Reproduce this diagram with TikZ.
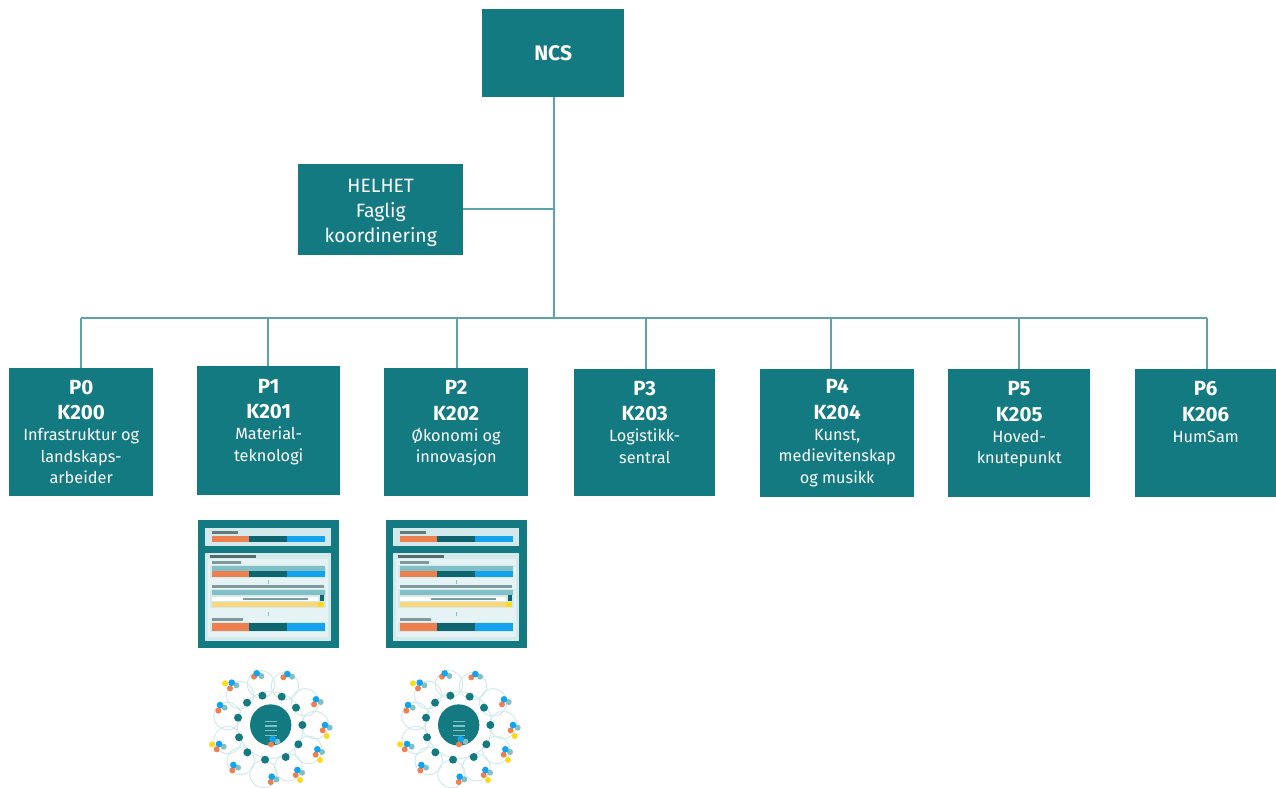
\documentclass[tikz,border=0pt]{standalone}
\usepackage{fontspec}
\setmainfont{Fira Sans}
\definecolor{teal}{HTML}{147A82}
\definecolor{dteal}{HTML}{0E6570}
\definecolor{linec}{HTML}{5FA3AA}
\definecolor{pale}{HTML}{D3E9EB}
\definecolor{paler}{HTML}{E6F3F4}
\definecolor{midt}{HTML}{7FBFC5}
\definecolor{orng}{HTML}{EE7F4F}
\definecolor{blu}{HTML}{13A3EE}
\definecolor{yel}{HTML}{F8D77F}
\definecolor{yel2}{HTML}{FFD81A}
\definecolor{greyb}{HTML}{7F9A9C}
\tikzset{
  every node/.style={font=\fontsize{16.3}{21.5}\selectfont},
  box/.style={fill=teal,text=white,align=center,inner sep=0pt,anchor=north west,draw=none},
  conn/.style={draw=linec,line width=1.6pt},
  ringline/.style={draw=pale,line width=1pt},
  pics/panel/.style={code={
    \fill[teal] (0,0) rectangle (141,-128);
    \fill[pale] (7,-8) rectangle (132.5,-26);
    \fill[pale] (7,-33) rectangle (132.5,-121);
    \fill[paler] (10,-39) rectangle (130,-117);
    \fill[pale] (12,-45) rectangle (128,-57.5);
    \fill[pale] (12,-69) rectangle (128,-88);
    \fill[pale] (12,-102) rectangle (128,-112);
    \fill[greyb!80!black] (14,-10.5) rectangle (40,-14);
    \fill[orng] (14,-16) rectangle (51,-22);
    \fill[dteal] (51,-16) rectangle (89,-22);
    \fill[blu] (89,-16) rectangle (127,-22);
    \fill[teal] (69.5,-26) rectangle (70.5,-33);
    \fill[greyb!70!black] (12,-34.5) rectangle (58,-37.5);
    \fill[greyb] (14,-41) rectangle (43,-44);
    \fill[midt] (14,-46) rectangle (127,-51);
    \fill[orng] (14,-51) rectangle (51,-56.5);
    \fill[dteal] (51,-51) rectangle (89,-56.5);
    \fill[blu] (89,-51) rectangle (127,-56.5);
    \fill[greyb] (14,-65) rectangle (126,-68);
    \fill[midt] (14,-70) rectangle (127,-75);
    \fill[white] (14,-77) rectangle (120,-81);
    \fill[greyb] (45,-78) rectangle (110,-80);
    \fill[dteal] (122,-75) rectangle (126,-81);
    \fill[yel] (14,-82) rectangle (126,-87);
    \fill[yel2] (120,-82) rectangle (126,-87);
    \fill[midt] (69.5,-60) rectangle (70.5,-64);
    \fill[midt] (69.5,-92) rectangle (70.5,-96);
    \fill[greyb] (14,-98) rectangle (45,-101);
    \fill[orng] (14,-103) rectangle (51,-111);
    \fill[dteal] (51,-103) rectangle (89,-111);
    \fill[blu] (89,-103) rectangle (127,-111);
  }},
  pics/ring/.style={code={
    \begin{scope}[x=.3333pt,y=-.3333pt,shift={(-212,-195)}]
    \foreach \a/\b in {183/73,255/78,315/127,345/195,325/270,265/322,190/342,122/303,83/240,82/168,120/105}
      \draw[ringline] (\a,\b) circle (41);
    \draw[ringline] (212,195) circle (100);
    \foreach \a/\b in {187/107,245/110,288/143,307/195,295/253,257/291,195/299,142/277,117/232,114/173,141/128}
      \fill[teal] (\a,\b) circle (12);
    \fill[teal] (212,195) circle (62);
    \foreach \y in {182,196,210,224} \fill[midt] (195,\y) rectangle (230,\y+4);
    \foreach \a/\b/\c/\d in {170/40/162/50,262/42/250/52,348/118/342/133,375/195/368/211,352/268/347/284,292/330/287/345,215/350/212/366,100/315/97/331,57/252/50/268,60/135/55/152,95/68/90/85,218/237/213/253}{
      \fill[midt] (\a+14,\b+8) circle (9);
      \fill[orng] (\c,\d) circle (9);
      \fill[blu] (\a,\b) circle (10);
    }
    \foreach \a/\b in {380/228,360/300,300/360,36/253,75/70}
      \fill[yel2] (\a,\b) circle (9);
    \end{scope}
  }},
}
\newcommand{\bx}[6]{\node[box,minimum width=#4pt-#2pt,minimum height=#5pt-#3pt] (#1) at (#2pt,-#3pt) {#6};}
\newcommand{\pk}[3]{{\fontsize{20.5}{25}\selectfont\bfseries #1}\\[4pt]{\fontsize{20.5}{25}\selectfont\bfseries #2}\\[-.5pt]#3}
\begin{document}
\begin{tikzpicture}[x=1pt,y=1pt]
\useasboundingbox (0,0) rectangle (1276,-787);
\bx{ncs}{482}{9}{624}{97}{\fontsize{21}{25}\selectfont\bfseries NCS}
\bx{helhet}{298}{164}{463}{255}{\rule{0pt}{20pt}\fontsize{19.3}{25}\selectfont HELHET\\[3.5pt]\fontsize{19.3}{25}\selectfont Faglig\\[3.5pt]\fontsize{19.3}{25}\selectfont koordinering}
\bx{p0}{9}{368}{153}{496}{\pk{P0}{K200}{Infrastruktur og\\landskaps-\\arbeider}}
\bx{p1}{197}{366}{340}{495}{\pk{P1}{K201}{Material-\\teknologi\\~}}
\bx{p2}{384}{368}{528}{496}{\pk{P2}{K202}{Økonomi og\\innovasjon\\~}}
\bx{p3}{574}{369}{715}{496}{\pk{P3}{K203}{Logistikk-\\sentral\\~}}
\bx{p4}{760}{369}{914}{497}{\pk{P4}{K204}{Kunst,\\medievitenskap\\og musikk}}
\bx{p5}{948}{369}{1090}{497}{\pk{P5}{K205}{Hoved-\\knutepunkt\\~}}
\bx{p6}{1135}{369}{1276}{497}{\pk{P6}{K206}{HumSam\\~\\~}}
\coordinate (junc) at (554,-209);
\coordinate (bus) at (554,-318);
\coordinate (b0) at (81,-318);
\coordinate (b1) at (268,-318);
\coordinate (b2) at (457,-318);
\coordinate (b3) at (646,-318);
\coordinate (b4) at (831,-318);
\coordinate (b5) at (1019,-318);
\coordinate (b6) at (1207,-318);
\draw[conn] (ncs.south -| bus) -- (bus);
\draw[conn] (helhet.east |- junc) -- (junc);
\draw[conn] (b0) -- (b6);
\foreach \i in {0,...,6} \draw[conn] (b\i) -- (b\i |- p\i.north);
\pic at (198,-520) {panel};
\pic at (386,-520) {panel};
\pic at (270.7,-725) {ring};
\pic at (458.7,-725) {ring};
\end{tikzpicture}
\end{document}
